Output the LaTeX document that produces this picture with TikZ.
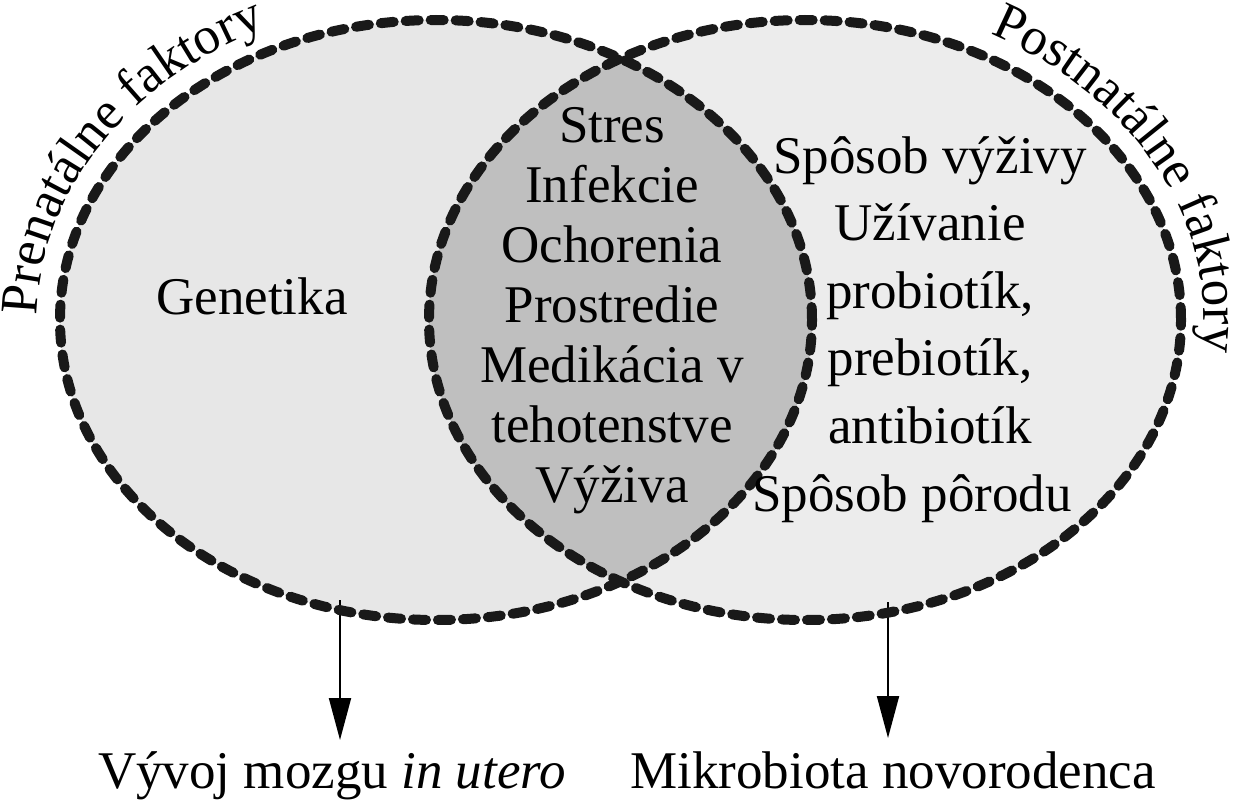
\documentclass[tikz,border=0pt]{standalone}
\usepackage{fontspec}
\setmainfont{Liberation Serif}
\usetikzlibrary{shapes.geometric,arrows.meta,decorations.text}
\definecolor{leftfill}{gray}{0.905}
\definecolor{rightfill}{gray}{0.925}
\definecolor{lensfill}{gray}{0.75}
\definecolor{rim}{gray}{0.1}
\tikzset{
  venn/.style={ellipse, minimum width=752pt, minimum height=600pt, inner sep=0pt, outer sep=0pt},
  rimline/.style={draw=rim, line width=10pt, dash pattern=on 13pt off 12pt, line cap=round},
  bigtext/.style={font=\fontsize{53}{60}\selectfont, inner sep=0pt, align=center},
  outcome/.style={-{Triangle[length=42pt,width=22pt]}, line width=2pt, black},
  curvedlabel/.style={decorate, decoration={text along path, text align=center}}
}
\begin{document}
\begin{tikzpicture}[x=1pt,y=1pt]
\useasboundingbox (0,0) rectangle (1236,-800);
% fills
\node[venn, fill=leftfill] (L) at (436,-320) {};
\node[venn, fill=rightfill] (R) at (805,-320) {};
\begin{scope}
  \clip (436,-320) ellipse [x radius=376, y radius=300];
  \fill[lensfill] (805,-320) ellipse [x radius=376, y radius=300];
\end{scope}
% outcomes (drawn below the rims)
\coordinate (s1) at (340,-600);
\coordinate (t1) at (340,-740);
\coordinate (s2) at (888,-602);
\coordinate (t2) at (888,-738);
\draw[outcome] (s1) -- (t1);
\draw[outcome] (s2) -- (t2);
% outlines
\node[venn, rimline] (Lr) at (436,-320) {};
\node[venn, rimline] (Rr) at (805,-320) {};
% curved labels
\path[curvedlabel, decoration={text={|\fontsize{53}{60}\selectfont|Prenatálne faktory}}]
  ([shift={(200:399 and 323)}]436,-320) arc[start angle=200, end angle=98, x radius=399, y radius=323];
\path[curvedlabel, decoration={text={|\fontsize{53}{60}\selectfont|Postnatálne faktory}}]
  ([shift={(77:399 and 323)}]805,-320) arc[start angle=77, end angle=-23, x radius=399, y radius=323];
% texts
\node[bigtext, anchor=base] (gen) at (252,-314) {Genetika};
\node[bigtext, anchor=north] (mid) at (612,-107) {Stres\\Infekcie\\Ochorenia\\Prostredie\\Medikácia v\\tehotenstve\\Výživa};
\node[bigtext, anchor=north, font=\fontsize{53}{67.6}\selectfont] (post) at (930,-136) {Spôsob výživy\\Užívanie\\probiotík,\\prebiotík,\\antibiotík\\Spôsob pôrodu\hspace*{36pt}};
% outcome labels
\node[bigtext, anchor=base] (brain) at (332,-788) {Vývoj mozgu \textit{in utero}};
\node[bigtext, anchor=base] (micro) at (893,-788) {Mikrobiota novorodenca};
\end{tikzpicture}
\end{document}
